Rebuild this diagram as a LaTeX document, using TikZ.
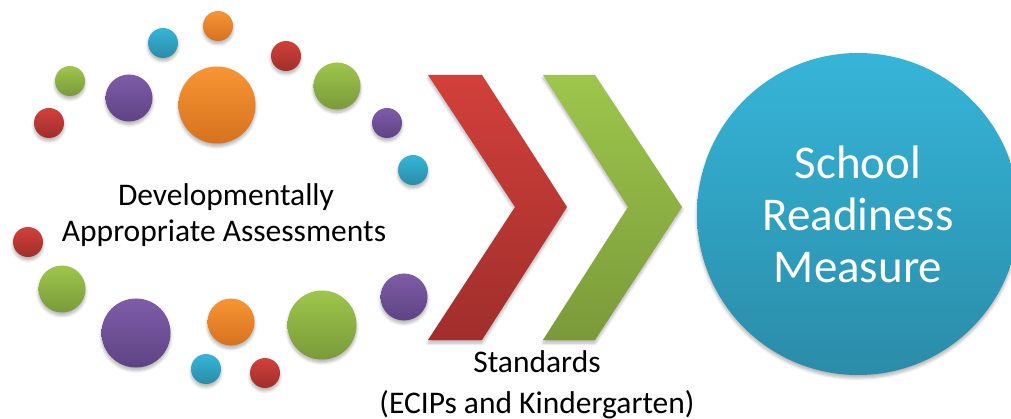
\documentclass[tikz,border=0pt]{standalone}
\usepackage{fontspec}
\setmainfont{Carlito}
\usetikzlibrary{shadows.blur}
\definecolor{redT}{HTML}{D2403B}
\definecolor{redB}{HTML}{A02E2B}
\definecolor{grnT}{HTML}{9EC64C}
\definecolor{grnB}{HTML}{7A9A39}
\definecolor{purT}{HTML}{7E5CA8}
\definecolor{purB}{HTML}{5E4384}
\definecolor{orgT}{HTML}{F89533}
\definecolor{orgB}{HTML}{D6721F}
\definecolor{cyaT}{HTML}{36B5D9}
\definecolor{cyaB}{HTML}{2A8CA8}
\begin{document}
\begin{tikzpicture}[x=1pt,y=-1pt,
  shad/.style={blur shadow={shadow xshift=0pt,shadow yshift=-3pt,shadow blur steps=6,shadow opacity=30,shadow blur radius=3pt}},
  dot/.style={circle,inner sep=0pt,minimum size=#1,shad},
  cred/.style={top color=redT,bottom color=redB},
  cgrn/.style={top color=grnT,bottom color=grnB},
  cpur/.style={top color=purT,bottom color=purB},
  corg/.style={top color=orgT,bottom color=orgB},
  ccya/.style={top color=cyaT,bottom color=cyaB},
  lbl/.style={inner sep=0pt,anchor=base,font=\fontsize{31.5}{36}\selectfont},
  chev/.style={shad}
]
\useasboundingbox (0,0) rectangle (1011,419);

% upper arc of dots
\node[dot=30,cgrn] (d1) at (70,81) {};
\node[dot=30,cred] (d2) at (49,123) {};
\node[dot=47,cpur] (d3) at (129,98) {};
\node[dot=30,ccya] (d4) at (163,43) {};
\node[dot=30,corg] (d5) at (218,26) {};
\node[dot=77,corg] (d6) at (217,105) {};
\node[dot=30,cred] (d7) at (286,56) {};
\node[dot=47,cgrn] (d8) at (337,86) {};
\node[dot=30,cpur] (d9) at (387,123) {};
\node[dot=30,ccya] (d10) at (413,170) {};
% lower arc of dots
\node[dot=30,cred] (d11) at (28,242) {};
\node[dot=47,cgrn] (d12) at (62,289) {};
\node[dot=69,cpur] (d13) at (136,333) {};
\node[dot=47,corg] (d14) at (231,322) {};
\node[dot=30,ccya] (d15) at (206,369) {};
\node[dot=30,cred] (d16) at (265,373) {};
\node[dot=69,cgrn] (d17) at (322,325) {};
\node[dot=47,cpur] (d18) at (404,297) {};

% chevrons
\path[chev,cred] (428,75) -- (482,75) -- (567,207) -- (482,340) -- (428,340) -- (515,207) -- cycle;
\path[chev,cgrn] (543,75) -- (595,75) -- (682,207) -- (595,340) -- (543,340) -- (628,207) -- cycle;

% big circle
\node[circle,inner sep=0pt,minimum size=322,shad,top color=cyaT,bottom color=cyaB,
      text=white,align=center,font=\fontsize{47}{52}\selectfont] (srm) at (858,214)
      {School\\Readiness\\Measure};

% labels
\node[lbl] (dev1) at (226,206) {Developmentally};
\node[lbl] (dev2) at (224,242) {Appropriate Assessments};
\node[lbl] (std1) at (537,372) {Standards};
\node[lbl] (std2) at (537,413) {(ECIPs and Kindergarten)};
\end{tikzpicture}
\end{document}
